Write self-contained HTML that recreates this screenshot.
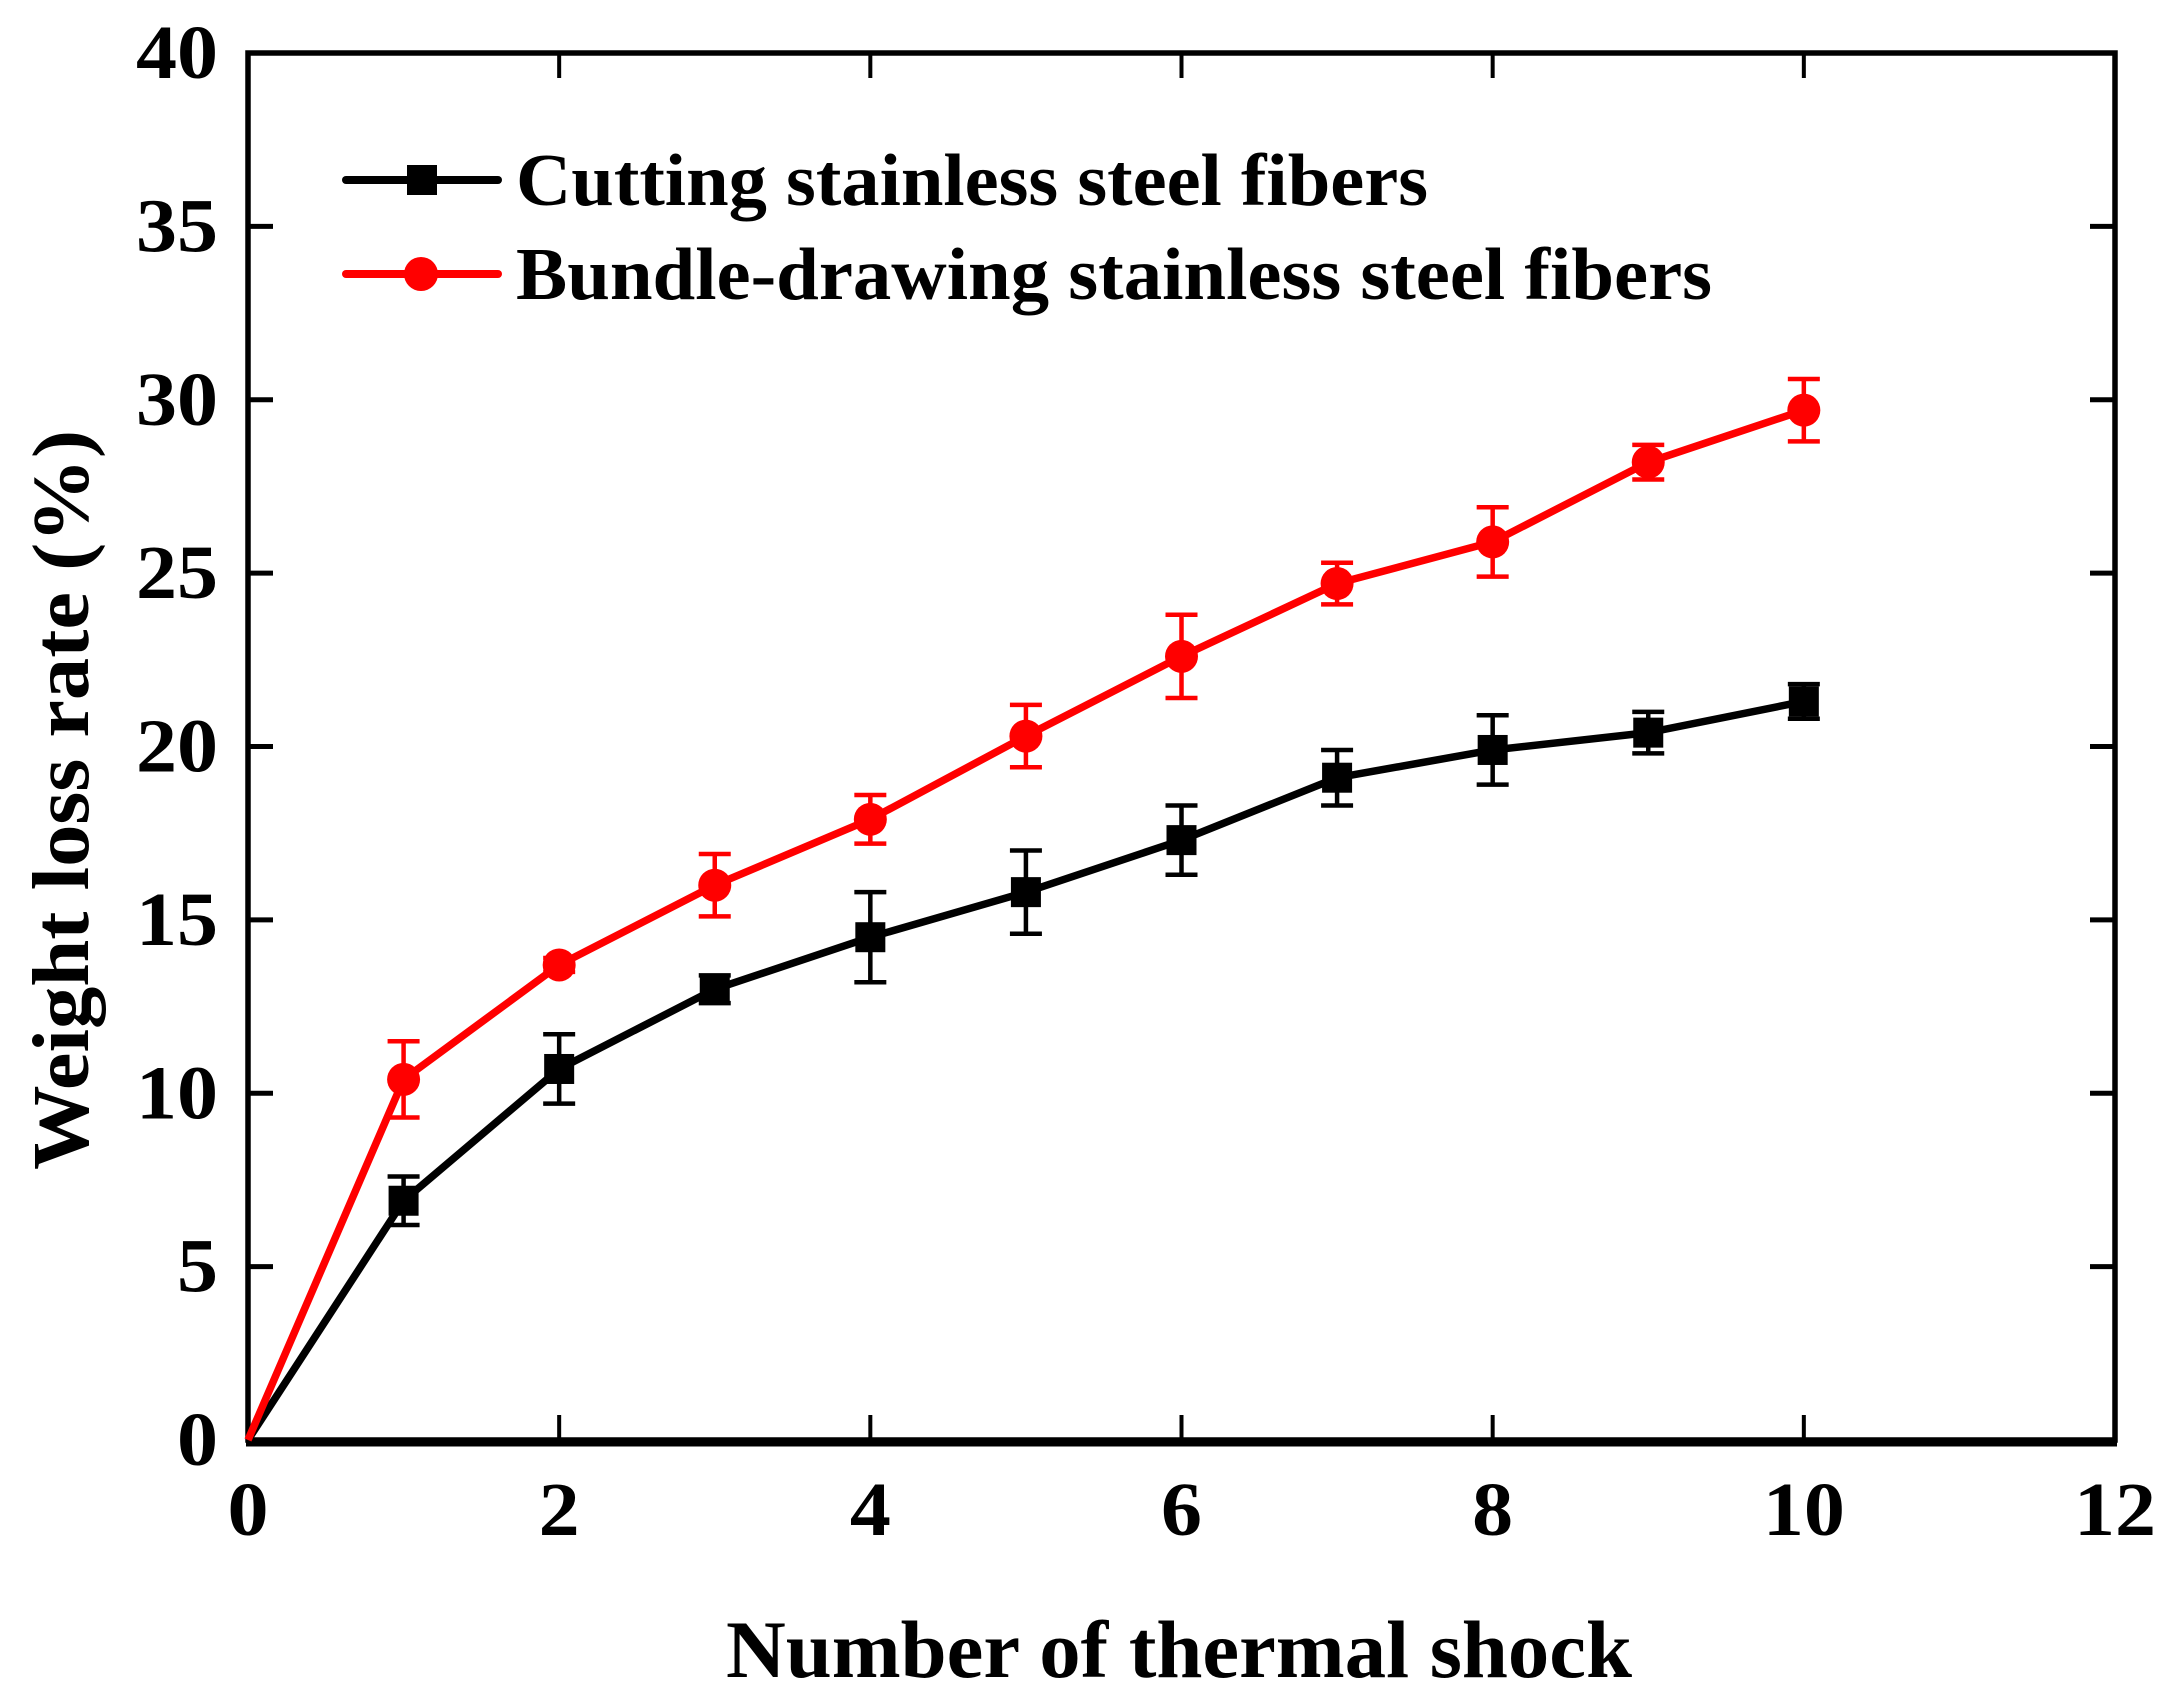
<!DOCTYPE html>
<html><head><meta charset="utf-8"><style>
html,body{margin:0;padding:0;background:#fff;}
svg{display:block;}
text{font-family:"Liberation Serif",serif;font-weight:bold;fill:#000;}
</style></head><body>
<svg id="chart" width="2170" height="1700" viewBox="0 0 2170 1700" xmlns="http://www.w3.org/2000/svg"></svg>
<script>
const xCats = [0,1,2,3,4,5,6,7,8,9,10];
const cuttingVals = [0,6.9,10.7,13.0,14.5,15.8,17.3,19.1,19.9,20.4,21.3];
const cuttingErr = [0,0.7,1.0,0.4,1.3,1.2,1.0,0.8,1.0,0.6,0.5];
const bundleVals = [0,10.4,13.7,16.0,17.9,20.3,22.6,24.7,25.9,28.2,29.7];
const bundleErr = [0,1.1,0.2,0.9,0.7,0.9,1.2,0.6,1.0,0.5,0.9];
const xTicks = [0,2,4,6,8,10,12];
const yTicks = [0,5,10,15,20,25,30,35,40];

const NS='http://www.w3.org/2000/svg';
const svg=document.getElementById('chart');
const L=248,R=2115,T=53,B=1440;
function sx(v){return L+(v-0)/(12-0)*(R-L);}
function sy(v){return B-(v-0)/(40-0)*(B-T);}
function mk(tag,attrs,parent){const e=document.createElementNS(NS,tag);for(const k in attrs)e.setAttribute(k,attrs[k]);(parent||svg).appendChild(e);return e;}

const frame=mk('rect',{x:L,y:T,width:R-L,height:B-T,fill:'none',stroke:'#000','stroke-width':5.5});


const bax=mk('line',{x1:L-2,y1:B+2,x2:R+2,y2:B+2,stroke:'#000','stroke-width':9});



xTicks.forEach(v=>{
  const x=sx(v);
  const t1=mk('line',{x1:x,y1:B,x2:x,y2:B-25,stroke:'#000','stroke-width':4});
  
  
  const t2=mk('line',{x1:x,y1:T,x2:x,y2:T+25,stroke:'#000','stroke-width':4});
  
  
  const s=String(v);
  const lb=mk('text',{x:x,y:1535,'font-size':76,'text-anchor':'middle',textLength:41*s.length,lengthAdjust:'spacingAndGlyphs'});
  lb.textContent=s;
  
  
});
yTicks.forEach(v=>{
  const y=sy(v);
  const t1=mk('line',{x1:L,y1:y,x2:L+25,y2:y,stroke:'#000','stroke-width':5});
  
  
  const t2=mk('line',{x1:R,y1:y,x2:R-25,y2:y,stroke:'#000','stroke-width':5});
  
  
  const s=String(v);
  const lb=mk('text',{x:218,y:y+25,'font-size':76,'text-anchor':'end',textLength:41*s.length,lengthAdjust:'spacingAndGlyphs'});
  lb.textContent=s;
  
  
});

const xt=mk('text',{x:1179,y:1677,'font-size':82,'text-anchor':'middle',textLength:906,lengthAdjust:'spacingAndGlyphs'});
xt.textContent='Number of thermal shock';


const yt=mk('text',{x:0,y:0,'font-size':80,'text-anchor':'middle',textLength:740,lengthAdjust:'spacingAndGlyphs',transform:'translate(88,800) rotate(-90)'});
yt.textContent='Weight loss rate (%)';



function series(vals,errs,color,shape,name){
  const g=mk('g',{});
  
  
  const pts=xCats.map((c,i)=>sx(c)+','+sy(vals[i])).join(' ');
  const pl=mk('polyline',{points:pts,fill:'none',stroke:color,'stroke-width':7.5,'stroke-linejoin':'round'},g);
  
  
  xCats.forEach((c,i)=>{
    const x=sx(c),y=sy(vals[i]);
    if(errs[i]>0){
      const y1=sy(vals[i]+errs[i]),y2=sy(vals[i]-errs[i]);
      const eb=mk('path',{d:`M${x},${y1}V${y2}M${x-16},${y1}H${x+16}M${x-16},${y2}H${x+16}`,stroke:color,'stroke-width':4.5,fill:'none'},g);
      
      
    }
    if(c===0) return;
    let m;
    if(shape==='square') m=mk('rect',{x:x-15,y:y-15,width:30,height:30,fill:color},g);
    else m=mk('circle',{cx:x,cy:y,r:16.5,fill:color},g);
    
    
  });
}
series(cuttingVals,cuttingErr,'#000','square','cutting');
series(bundleVals,bundleErr,'#ff0000','circle','bundle');

function legend(y,color,shape,label,len,name){
  const g=mk('g',{});
  
  
  mk('line',{x1:346,y1:y,x2:498,y2:y,stroke:color,'stroke-width':8,'stroke-linecap':'round'},g);
  if(shape==='square') mk('rect',{x:407,y:y-15,width:30,height:30,fill:color},g);
  else mk('circle',{cx:421,cy:y,r:17,fill:color},g);
  const t=mk('text',{x:516,y:y+25,'font-size':74,textLength:len,lengthAdjust:'spacingAndGlyphs'},g);
  t.textContent=label;
}
legend(180,'#000','square','Cutting stainless steel fibers',912,'cutting');
legend(274,'#ff0000','circle','Bundle-drawing stainless steel fibers',1196,'bundle');
</script>
</body></html>
